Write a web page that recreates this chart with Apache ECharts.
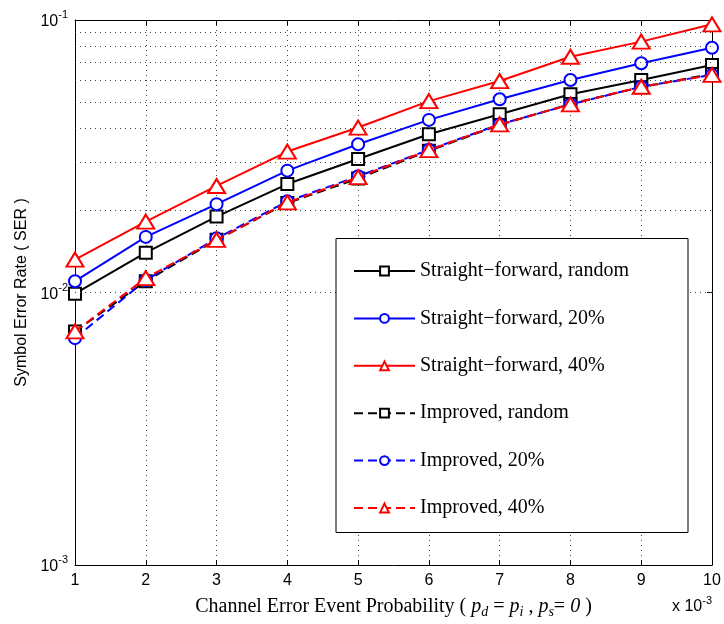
<!DOCTYPE html>
<html><head><meta charset="utf-8">
<script src="https://cdn.jsdelivr.net/npm/echarts@6/dist/echarts.min.js"></script>
<style>html,body{margin:0;padding:0;background:#fff}#c{width:724px;height:624px}</style>
</head><body><div id="c"></div>
<script>
const xValues = [1, 2, 3, 4, 5, 6, 7, 8, 9, 10];
const sfRandom  = [0.0099, 0.0140, 0.0190, 0.0250, 0.0309, 0.0381, 0.0451, 0.0534, 0.0602, 0.0684];
const sf20      = [0.0110, 0.0160, 0.0211, 0.0280, 0.0350, 0.0430, 0.0512, 0.0602, 0.0694, 0.0791];
const sf40      = [0.0132, 0.0182, 0.0246, 0.0329, 0.0403, 0.0504, 0.0597, 0.0733, 0.0833, 0.0964];
const impRandom = [0.0072, 0.0110, 0.0156, 0.0213, 0.0262, 0.0331, 0.0412, 0.0492, 0.0567, 0.0634];
const imp20     = [0.0068, 0.0111, 0.0158, 0.0216, 0.0267, 0.0334, 0.0414, 0.0490, 0.0569, 0.0629];
const imp40     = [0.0072, 0.0113, 0.0156, 0.0214, 0.0265, 0.0333, 0.0414, 0.0490, 0.0569, 0.0629];
const seriesNames = ['Straight\u2212forward, random', 'Straight\u2212forward, 20%', 'Straight\u2212forward, 40%',
                     'Improved, random', 'Improved, 20%', 'Improved, 40%'];
const yMinorGrid = [0.002, 0.003, 0.004, 0.005, 0.006, 0.007, 0.008, 0.009,
                    0.02, 0.03, 0.04, 0.05, 0.06, 0.07, 0.08, 0.09];

const dataSets = [sfRandom, sf20, sf40, impRandom, imp20, imp40];
const colors = ['#000000', '#0000ff', '#ff0000', '#000000', '#0000ff', '#ff0000'];
const symbols = ['emptyRect', 'emptyCircle', 'emptyTriangle', 'emptyRect', 'emptyCircle', 'emptyTriangle'];
const symSizes = [12, 12, [17, 14], 12, 12, [17, 14]];
const dashed = [false, false, false, true, true, true];

const dotted = { type: [1, 4], color: '#444', width: 1 };

const series = dataSets.map((arr, i) => ({
  name: seriesNames[i],
  type: 'line',
  data: xValues.map((x, j) => [x, arr[j]]),
  symbol: symbols[i],
  symbolSize: symSizes[i],
  showAllSymbol: true,
  color: colors[i],
  lineStyle: { color: colors[i], width: 2, type: dashed[i] ? [9, 5] : 'solid' },
  itemStyle: { color: colors[i], borderColor: colors[i], borderWidth: 2 },
  emphasis: { disabled: true },
  animation: false,
  z: 3 + i
}));
series[0].markLine = {
  silent: true, symbol: 'none', animation: false,
  label: { show: false },
  lineStyle: dotted,
  emphasis: { disabled: true },
  data: yMinorGrid.map(v => ({ yAxis: v }))
};

const chart = echarts.init(document.getElementById('c'), null, { renderer: 'canvas' });
const sans = 'Liberation Sans, Arial, sans-serif';
const serif = 'Liberation Serif, Times New Roman, serif';
chart.setOption({
  backgroundColor: '#ffffff',
  animation: false,
  grid: { left: 75, right: 12, top: 20, bottom: 59 },
  xAxis: [{
    type: 'value', min: 1, max: 10, interval: 1, position: 'bottom',
    axisLine: { lineStyle: { color: '#000', width: 1 } },
    axisTick: { inside: true, length: 5, lineStyle: { color: '#000' } },
    axisLabel: { color: '#000', fontSize: 16, fontFamily: sans, margin: 8 },
    splitLine: { show: true, lineStyle: dotted },
    name: '{n|Channel Error Event Probability ( }{i|p}{sb|d}{n| = }{i|p}{sb|i}{n| , }{i|p}{sb|s}{n|= }{i|0}{n| )}',
    nameLocation: 'middle', nameGap: 29,
    nameTextStyle: {
      rich: {
        n: { fontSize: 20, fontFamily: serif, color: '#000' },
        i: { fontSize: 20, fontFamily: serif, fontStyle: 'italic', color: '#000' },
        sb: { fontSize: 14, fontFamily: serif, fontStyle: 'italic', color: '#000', padding: [11, 0, 0, 0] }
      }
    }
  }, {
    type: 'value', min: 1, max: 10, interval: 1, position: 'top',
    axisLine: { lineStyle: { color: '#000', width: 1 } },
    axisTick: { inside: true, length: 5, lineStyle: { color: '#000' } },
    axisLabel: { show: false },
    splitLine: { show: false }
  }],
  yAxis: [{
    type: 'log', logBase: 10, min: 0.001, max: 0.1,
    axisLine: { show: true, lineStyle: { color: '#000', width: 1 } },
    axisTick: { show: true, inside: true, length: 5, lineStyle: { color: '#000' } },
    axisLabel: {
      color: '#000', margin: 7,
      formatter: v => '{b|10}{s|' + Math.round(Math.log10(v)) + '}',
      rich: {
        b: { fontSize: 16, fontFamily: sans, color: '#000', padding: [4, 0, 0, 0] },
        s: { fontSize: 11, fontFamily: sans, color: '#000', padding: [0, 0, 10, 0] }
      }
    },
    splitLine: { show: true, lineStyle: dotted },
    name: 'Symbol Error Rate ( SER )',
    nameLocation: 'middle', nameGap: 45,
    nameTextStyle: { fontSize: 16, fontFamily: sans, color: '#000' }
  }, {
    type: 'log', logBase: 10, min: 0.001, max: 0.1, position: 'right',
    axisLine: { show: true, lineStyle: { color: '#000', width: 1 } },
    axisTick: { show: true, inside: true, length: 5, lineStyle: { color: '#000' } },
    axisLabel: { show: false },
    splitLine: { show: false }
  }],
  legend: {
    orient: 'vertical', left: 348, top: 255, z: 20,
    itemWidth: 61, itemHeight: 11, itemGap: 25.4,
    selectedMode: false,
    textStyle: { fontSize: 20, fontFamily: serif, color: '#000', lineHeight: 22 },
    data: seriesNames
  },
  graphic: [
    { type: 'rect', z: 15, shape: { x: 336, y: 238.5, width: 352, height: 294 },
      style: { fill: '#fff', stroke: '#000', lineWidth: 1 } },
    { type: 'text', left: 672, top: 595, z: 20,
      style: { text: '{a|x 10}{s|-3}', rich: {
        a: { fontSize: 16, fontFamily: sans, fill: '#000', padding: [2, 0, 0, 0] },
        s: { fontSize: 11, fontFamily: sans, fill: '#000', padding: [0, 0, 10, 0] } } } }
  ],
  series: series
});
</script></body></html>
